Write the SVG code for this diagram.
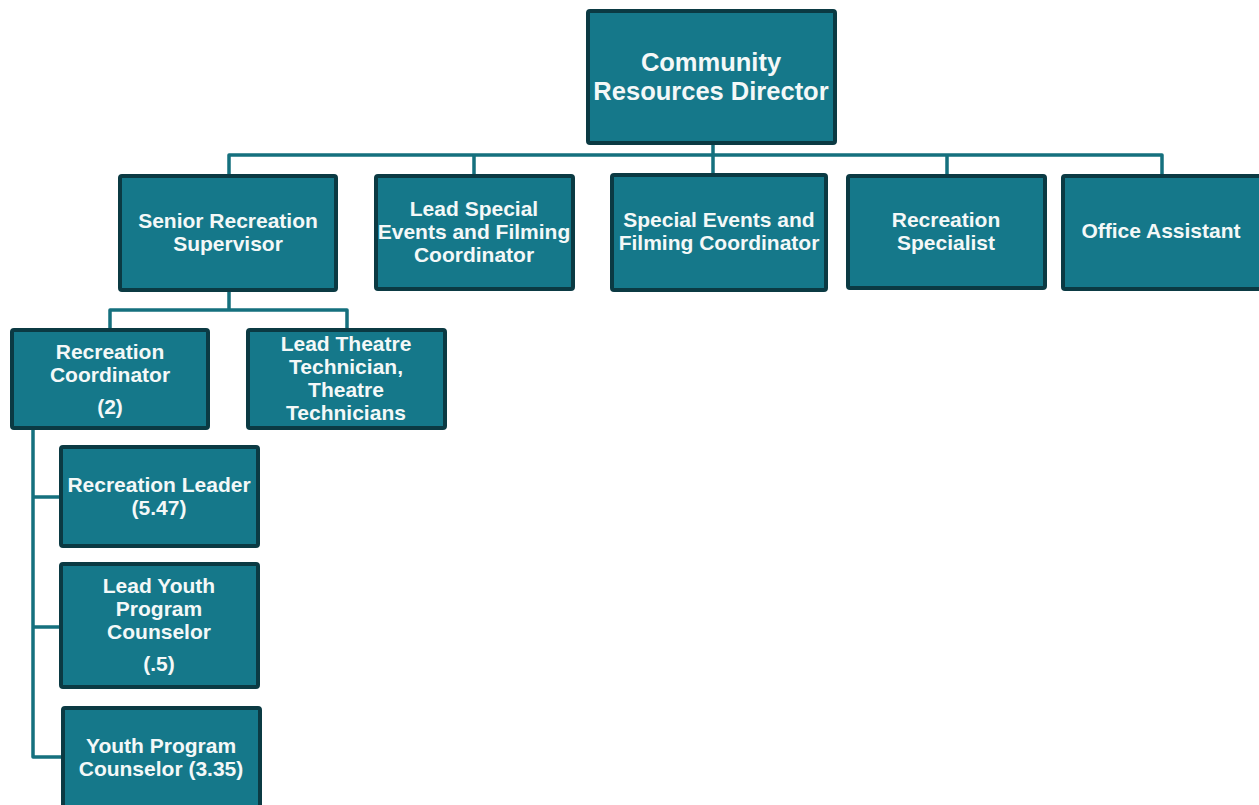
<svg xmlns="http://www.w3.org/2000/svg" width="1259" height="805" viewBox="0 0 1259 805">
  <style>
    .box { fill: #15788a; stroke: #0b3a43; stroke-width: 4; }
    .lbl { fill: #f4f8f8; font-family: "Liberation Sans", Arial, sans-serif; font-weight: bold; font-size: 21px; text-anchor: middle; }
    .big { font-size: 25.5px; }
    .wire { fill: none; stroke: #15707e; stroke-width: 3.5; stroke-linejoin: round; }
  </style>
  <rect width="1259" height="805" fill="#ffffff"/>

  <!-- reporting lines -->
  <g id="connectors">
    <path class="wire" d="M713 144 V155"/>
    <path class="wire" d="M229 175 V155 H1162 V175"/>
    <path class="wire" d="M474 155 V175 M713 155 V174 M947 155 V175"/>
    <path class="wire" d="M229 291 V310 M110 329 V310 H347 V329"/>
    <path class="wire" d="M33 429 V757 H62 M33 497 H61 M33 627 H61"/>
  </g>

  <g id="director">
    <rect class="box" x="588" y="11" width="247" height="132" rx="2"/>
    <text class="lbl big" x="711" y="71">Community</text>
    <text class="lbl big" x="711" y="100">Resources Director</text>
  </g>

  <g id="senior-recreation-supervisor">
    <rect class="box" x="120" y="176" width="216" height="114" rx="2"/>
    <text class="lbl" x="228" y="228">Senior Recreation</text>
    <text class="lbl" x="228" y="251">Supervisor</text>
  </g>

  <g id="lead-special-events">
    <rect class="box" x="376" y="176" width="197" height="113" rx="2"/>
    <text class="lbl" x="474" y="216">Lead Special</text>
    <text class="lbl" x="474" y="239">Events and Filming</text>
    <text class="lbl" x="474" y="262">Coordinator</text>
  </g>

  <g id="special-events-coordinator">
    <rect class="box" x="612" y="175" width="214" height="115" rx="2"/>
    <text class="lbl" x="719" y="227">Special Events and</text>
    <text class="lbl" x="719" y="250">Filming Coordinator</text>
  </g>

  <g id="recreation-specialist">
    <rect class="box" x="848" y="176" width="197" height="112" rx="2"/>
    <text class="lbl" x="946" y="227">Recreation</text>
    <text class="lbl" x="946" y="250">Specialist</text>
  </g>

  <g id="office-assistant">
    <rect class="box" x="1063" y="176" width="198" height="113" rx="2"/>
    <text class="lbl" x="1161" y="238">Office Assistant</text>
  </g>

  <g id="recreation-coordinator">
    <rect class="box" x="12" y="330" width="196" height="98" rx="2"/>
    <text class="lbl" x="110" y="359">Recreation</text>
    <text class="lbl" x="110" y="382">Coordinator</text>
    <text class="lbl" x="110" y="414">(2)</text>
  </g>

  <g id="theatre-technicians">
    <rect class="box" x="248" y="330" width="197" height="98" rx="2"/>
    <text class="lbl" x="346" y="351">Lead Theatre</text>
    <text class="lbl" x="346" y="374">Technician,</text>
    <text class="lbl" x="346" y="397">Theatre</text>
    <text class="lbl" x="346" y="420">Technicians</text>
  </g>

  <g id="recreation-leader">
    <rect class="box" x="61" y="447" width="197" height="99" rx="2"/>
    <text class="lbl" x="159" y="492">Recreation Leader</text>
    <text class="lbl" x="159" y="515">(5.47)</text>
  </g>

  <g id="lead-youth-program-counselor">
    <rect class="box" x="61" y="564" width="197" height="123" rx="2"/>
    <text class="lbl" x="159" y="593">Lead Youth</text>
    <text class="lbl" x="159" y="616">Program</text>
    <text class="lbl" x="159" y="639">Counselor</text>
    <text class="lbl" x="159" y="671">(.5)</text>
  </g>

  <g id="youth-program-counselor">
    <rect class="box" x="63" y="708" width="197" height="110" rx="2"/>
    <text class="lbl" x="161" y="753">Youth Program</text>
    <text class="lbl" x="161" y="776">Counselor (3.35)</text>
  </g>
</svg>
